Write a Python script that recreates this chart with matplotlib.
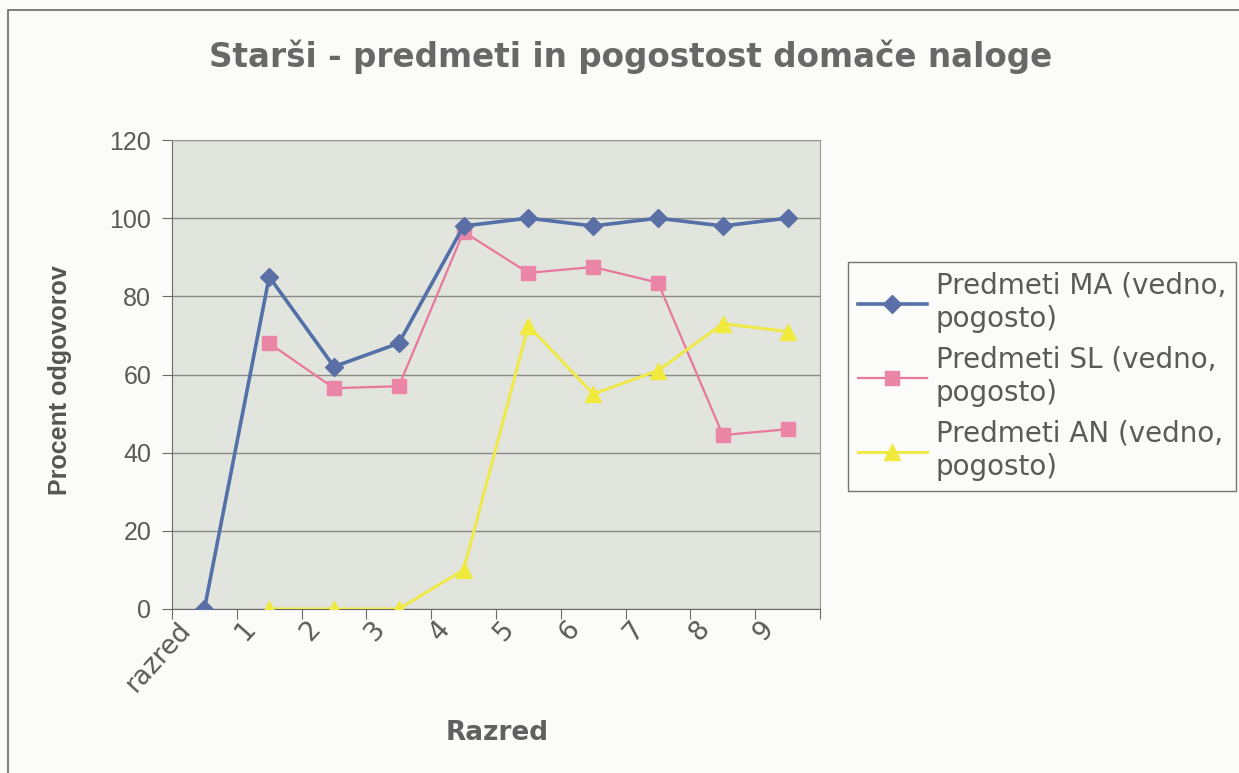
import matplotlib.pyplot as plt
import matplotlib.transforms as mtransforms
from matplotlib.patches import Rectangle

plt.rcParams['font.family'] = ['Liberation Sans', 'DejaVu Sans']

# data
categories = ['razred', '1', '2', '3', '4', '5', '6', '7', '8', '9']
ma_values = [0, 85, 62, 68, 98, 100, 98, 100, 98, 100]
sl_values = [None, 68, 56.5, 57, 96.5, 86, 87.5, 83.5, 44.5, 46]
an_values = [None, 0, 0, 0, 10, 72.5, 55, 61, 73, 71]
y_ticks = [0, 20, 40, 60, 80, 100, 120]

series_labels = ['Predmeti MA (vedno,\npogosto)',
                 'Predmeti SL (vedno,\npogosto)',
                 'Predmeti AN (vedno,\npogosto)']

text_col = '#5a5a5a'
wide = ['DejaVu Sans']   # the scan is stretched sideways, a wider face fits better

fig = plt.figure(figsize=(12.39, 7.73), dpi=100, facecolor='#fbfbf9')
ax = fig.add_axes([172 / 1239, 1 - 609 / 773, 648 / 1239, 469 / 773])
ax.set_facecolor('#e2e4de')

# outer chart frame
fig.patches.append(Rectangle((8 / 1239, -0.01), 1.2, 1 - 10 / 773 + 0.01,
                             transform=fig.transFigure, fill=False,
                             edgecolor='#6a6a6a', linewidth=1.2))

x = list(range(len(categories)))

def xy(vals):
    pts = [(i, v) for i, v in zip(x, vals) if v is not None]
    return [p[0] for p in pts], [p[1] for p in pts]

xs, ys = xy(ma_values)
ax.plot(xs, ys, color='#5470a8', linewidth=2.6, marker='D', markersize=9,
        markerfacecolor='#5a6fa6', markeredgecolor='#5a6fa6', label=series_labels[0], zorder=4)
xs, ys = xy(sl_values)
ax.plot(xs, ys, color='#e8789c', linewidth=1.6, marker='s', markersize=10,
        markerfacecolor='#ec86a6', markeredgecolor='#ec86a6', label=series_labels[1], zorder=3)
xs, ys = xy(an_values)
ax.plot(xs, ys, color='#efe94a', linewidth=2.2, marker='^', markersize=11,
        markerfacecolor='#f0ea3c', markeredgecolor='#f0ea3c', label=series_labels[2], zorder=3)

ax.set_xlim(-0.5, len(categories) - 0.5)
ax.set_ylim(0, 120)
ax.set_yticks(y_ticks)
ax.yaxis.grid(True, color='#8a8a86', linewidth=1.0)
ax.set_axisbelow(True)

# ticks on category boundaries, labels at centres
ax.set_xticks([i - 0.5 for i in range(len(categories) + 1)])
ax.set_xticklabels([])
ax.set_xticks(x, minor=True)
ax.set_xticklabels(categories, minor=True, rotation=48, ha='right', va='center',
                   rotation_mode='anchor', fontsize=19, color=text_col, family=wide)
ax.tick_params(axis='x', which='minor', length=0, pad=6)
ax.tick_params(axis='x', which='major', length=7, direction='out', color='#6a6a6a')
ax.tick_params(axis='y', length=7, direction='out', color='#6a6a6a',
               labelsize=18, labelcolor=text_col, pad=8)
shift = mtransforms.ScaledTranslation(-18 / 100, -8 / 100, fig.dpi_scale_trans)
for lbl in ax.xaxis.get_minorticklabels():
    lbl.set_transform(lbl.get_transform() + shift)

for side in ['top', 'right']:
    ax.spines[side].set_color('#9a9a96')
for side in ['left', 'bottom']:
    ax.spines[side].set_color('#6a6a6a')

fig.text(631 / 1239, 1 - 57 / 773, 'Starši - predmeti in pogostost domače naloge',
         ha='center', va='center', fontsize=23.5, fontweight='bold', color='#686868',
         family=wide)
fig.text(60 / 1239, 1 - 380 / 773, 'Procent odgovorov', rotation=90,
         ha='center', va='center', fontsize=18, fontweight='bold', color='#555555')
fig.text(497 / 1239, 1 - 733 / 773, 'Razred', ha='center', va='center',
         fontsize=19, fontweight='bold', color='#606060', family=wide)

leg = fig.legend(loc='upper left', bbox_to_anchor=(848 / 1239, 1 - 262 / 773),
                 prop={'family': wide, 'size': 20}, frameon=True, fancybox=False,
                 handlelength=2.5, handletextpad=0.3, labelspacing=0.45,
                 borderpad=0.35, borderaxespad=0)
leg.get_frame().set_edgecolor('#555555')
leg.get_frame().set_facecolor('#fbfbf9')
leg.get_frame().set_linewidth(1.0)
for t in leg.get_texts():
    t.set_color(text_col)
    t.set_linespacing(1.25)

fig.savefig('out.png', dpi=100, facecolor=fig.get_facecolor())
